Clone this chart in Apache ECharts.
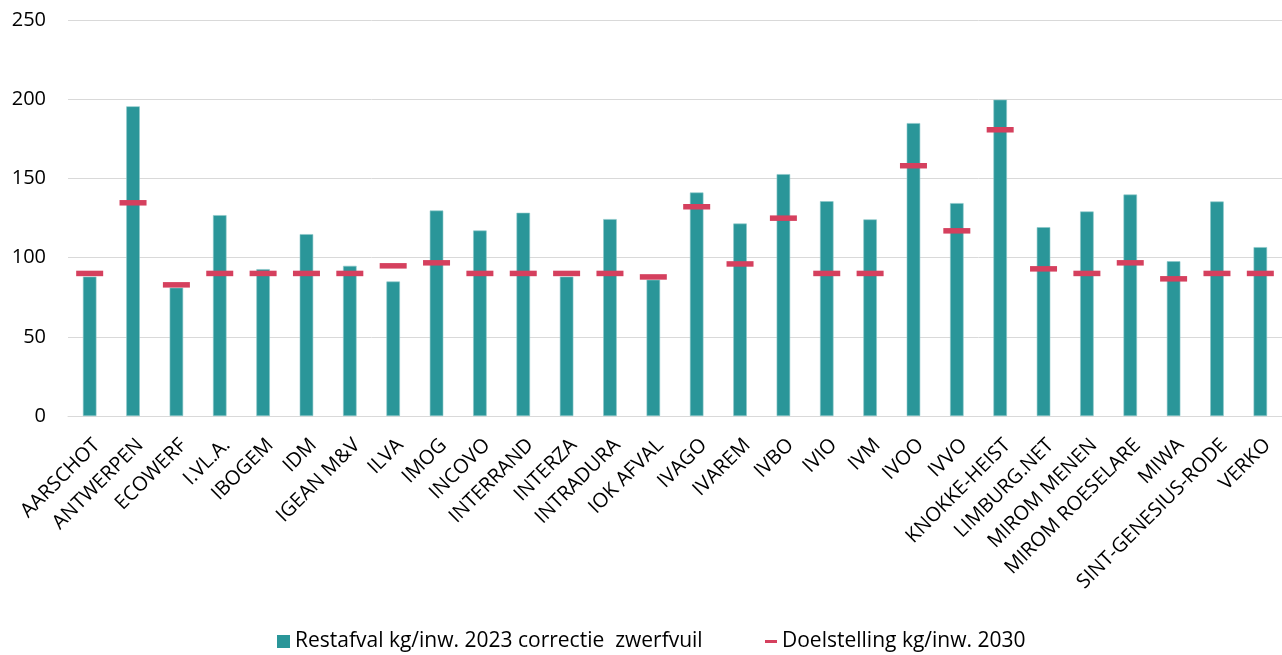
<!DOCTYPE html>
<html>
<head>
<meta charset="utf-8">
<script src="https://cdn.jsdelivr.net/npm/echarts@6/dist/echarts.min.js"></script>
<style>
html,body{margin:0;padding:0;background:#fff;}
#chart{width:1282px;height:655px;}
</style>
</head>
<body>
<div id="chart"></div>
<script>
const categories = ["AARSCHOT","ANTWERPEN","ECOWERF","I.VL.A.","IBOGEM","IDM","IGEAN M&V","ILVA","IMOG","INCOVO","INTERRAND","INTERZA","INTRADURA","IOK AFVAL","IVAGO","IVAREM","IVBO","IVIO","IVM","IVOO","IVVO","KNOKKE-HEIST","LIMBURG.NET","MIROM MENEN","MIROM ROESELARE","MIWA","SINT-GENESIUS-RODE","VERKO"];
const restafval2023 = [88,195.5,81,126.8,92.7,114.8,94.8,84.9,129.7,117.1,128.3,88,124.3,86,141.1,121.5,152.7,135.6,124.1,184.9,134.4,199.7,119.2,129.1,139.8,97.7,135.4,106.6];
const doelstelling2030 = [90,134.6,82.8,90,90,90,90,94.8,96.7,90,90,90,90,87.8,132.1,96,124.9,90,90,158,116.9,180.7,92.9,90,96.7,86.6,90,90];
const yTicks = {min:0,max:250,interval:50};
const seriesNames = ["Restafval kg/inw. 2023 correctie  zwerfvuil","Doelstelling kg/inw. 2030"];

const font = "'Open Sans', 'Noto Sans', sans-serif";
const chart = echarts.init(document.getElementById('chart'));
chart.setOption({
  animation:false,
  textStyle:{fontFamily:font},
  grid:{left:68,right:0,top:20,bottom:239,containLabel:false},
  legend:[
    {
      top:631,left:277,padding:0,
      textStyle:{fontSize:21,color:'#000',fontFamily:font},
      data:[{name:seriesNames[0],icon:'rect',itemStyle:{color:'#2A9699',borderWidth:0}}],
      itemWidth:13,itemHeight:13
    },
    {
      top:631,left:765,padding:0,
      textStyle:{fontSize:21,color:'#000',fontFamily:font},
      data:[{name:seriesNames[1],icon:'rect',itemStyle:{color:'#D5405E',borderWidth:0}}],
      itemWidth:12,itemHeight:3
    }
  ],
  xAxis:{
    type:'category',data:categories,
    axisTick:{show:false},
    axisLine:{lineStyle:{color:'#d9d9d9',width:1}},
    axisLabel:{interval:0,rotate:45,fontSize:20,color:'#000',margin:19,verticalAlign:'top',fontFamily:font}
  },
  yAxis:{
    type:'value',min:yTicks.min,max:yTicks.max,interval:yTicks.interval,
    axisLine:{show:false},axisTick:{show:false},
    splitLine:{lineStyle:{color:'#d9d9d9',width:1}},
    axisLabel:{fontSize:20,color:'#000',margin:22,fontFamily:font}
  },
  series:[
    {name:seriesNames[0],type:'bar',data:restafval2023,barWidth:13.5,
     itemStyle:{color:'#2A9699',borderColor:'#8cc8ca',borderWidth:0.6}},
    {name:seriesNames[1],type:'scatter',data:doelstelling2030,symbol:'rect',symbolSize:[27,5.5],
     itemStyle:{color:'#D5405E',opacity:1},z:3}
  ]
});
</script>
</body>
</html>
